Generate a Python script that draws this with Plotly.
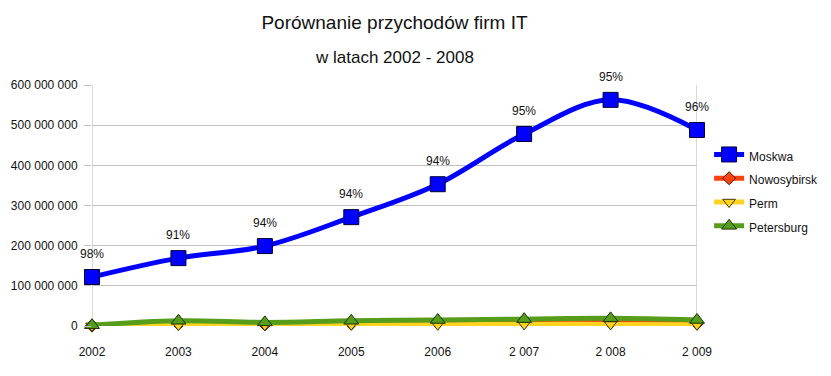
import plotly.graph_objects as go

years = ["2002", "2003", "2004", "2005", "2006", "2 007", "2 008", "2 009"]
moskwa = [122e6, 169e6, 199e6, 271e6, 353e6, 478e6, 563e6, 488e6]
nowosybirsk = [1e6, 5e6, 4e6, 6e6, 8e6, 9e6, 9e6, 6e6]
perm = [0.5e6, 2e6, 2e6, 3e6, 3e6, 4e6, 4e6, 3e6]
petersburg = [2e6, 13e6, 9e6, 13e6, 15e6, 17e6, 19e6, 15e6]
shares = ["98%", "91%", "94%", "94%", "94%", "95%", "95%", "96%"]
ytick_vals = [0, 100e6, 200e6, 300e6, 400e6, 500e6, 600e6]
ytick_text = ["0", "100 000 000", "200 000 000", "300 000 000", "400 000 000", "500 000 000", "600 000 000"]

FONT = "Liberation Sans, Arial, sans-serif"
xs = list(range(len(years)))

def lname(s):
    return "<span style='font-size:12px'>" + s + "</span>"

fig = go.Figure()
fig.add_trace(go.Scatter(x=xs, y=moskwa, name=lname("Moskwa"), mode="lines+markers",
                         line=dict(color="#0000ff", width=5, shape="spline"),
                         marker=dict(symbol="square", size=15, color="#0000ff", line=dict(color="#000033", width=1))))
fig.add_trace(go.Scatter(x=xs, y=nowosybirsk, name=lname("Nowosybirsk"), mode="lines+markers",
                         line=dict(color="#ff420e", width=5, shape="spline"),
                         marker=dict(symbol="diamond", size=10, color="#ff420e", line=dict(color="#441100", width=1))))
fig.add_trace(go.Scatter(x=xs, y=perm, name=lname("Perm"), mode="lines+markers",
                         line=dict(color="#ffd320", width=5, shape="spline"),
                         marker=dict(symbol="triangle-down", size=11, color="#ffd320", line=dict(color="#443300", width=1))))
fig.add_trace(go.Scatter(x=xs, y=petersburg, name=lname("Petersburg"), mode="lines+markers",
                         line=dict(color="#579d1c", width=5, shape="spline"),
                         marker=dict(symbol="triangle-up", size=13, color="#579d1c", line=dict(color="#1a3300", width=1))))

annotations = [dict(text="w latach 2002 - 2008", xref="paper", yref="paper", x=0.5, y=1.116,
                    xanchor="center", yanchor="middle", showarrow=False,
                    font=dict(family=FONT, size=17, color="#111"))]
for xv, yv, s in zip(xs, moskwa, shares):
    annotations.append(dict(x=xv, y=yv, xref="x", yref="y", text=s, showarrow=False,
                            xanchor="center", yanchor="middle", yshift=23,
                            font=dict(family=FONT, size=12, color="#111")))

fig.update_layout(
    width=823, height=368,
    margin=dict(l=84, r=134, t=77, b=50, autoexpand=False),
    paper_bgcolor="white", plot_bgcolor="white",
    font=dict(family=FONT, size=12, color="#111"),
    title=dict(text="Porównanie przychodów firm IT",
               x=0.5, xanchor="center", xref="paper", y=0.962, yanchor="middle",
               font=dict(family=FONT, size=19, color="#111")),
    annotations=annotations,
    showlegend=True,
    legend=dict(x=1.020, xanchor="left", y=0.782, yanchor="top", traceorder="normal",
                font=dict(family=FONT, size=16, color="#111"),
                itemwidth=30, bgcolor="rgba(0,0,0,0)"),
    xaxis=dict(range=[0, 7], tickvals=xs, ticktext=years, showgrid=False, zeroline=False,
               showline=False, ticks="outside", ticklen=15, tickcolor="rgba(0,0,0,0)",
               automargin=False, tickfont=dict(family=FONT, size=12)),
    yaxis=dict(range=[0, 600e6], tickvals=ytick_vals, ticktext=ytick_text, showgrid=True,
               gridcolor="#c0c0c0", gridwidth=1, zeroline=False, showline=False,
               ticks="outside", ticklen=7, tickcolor="#c0c0c0", ticklabelstandoff=4,
               automargin=False, tickfont=dict(family=FONT, size=12)),
)
fig.add_shape(type="line", xref="x", yref="paper", x0=0, x1=0, y0=-0.03, y1=1, line=dict(color="#b3b3b3", width=1), layer="below")
fig.add_shape(type="line", xref="x", yref="paper", x0=7, x1=7, y0=0, y1=1, line=dict(color="#b3b3b3", width=1), layer="below")
fig.update_traces(cliponaxis=False)
fig.write_html("out.html")
